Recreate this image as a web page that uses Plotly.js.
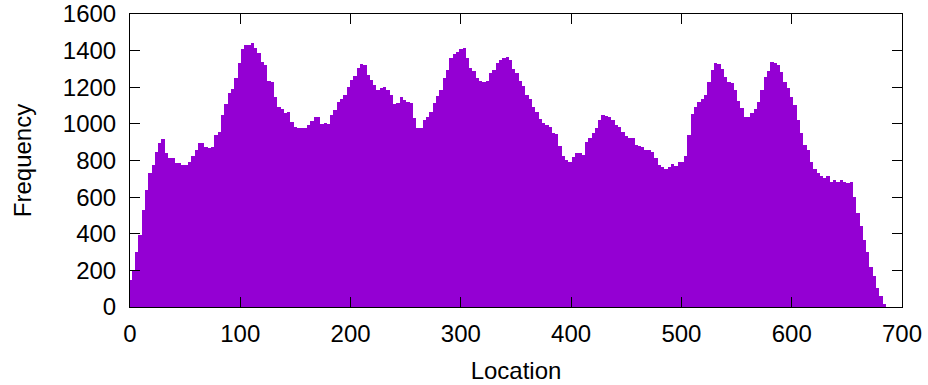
<!DOCTYPE html>
<html>
<head>
<meta charset="utf-8">
<script src="https://cdn.plot.ly/plotly-3.0.1.min.js"></script>
<style>html,body{margin:0;padding:0;background:#fff;}#chart{width:928px;height:385px;}</style>
</head>
<body>
<div id="chart"></div>
<script>
// Location (bin centres, step 3) and frequency
const locations = [
  0,3,6,9,12,15,18,21,24,27,30,33,36,39,42,45,48,51,54,57,60,63,66,69,72,75,78,81,84,87,
  90,93,96,99,102,105,108,111,114,117,120,123,126,129,132,135,138,141,144,147,150,153,156,159,162,165,168,171,174,177,
  180,183,186,189,192,195,198,201,204,207,210,213,216,219,222,225,228,231,234,237,240,243,246,249,252,255,258,261,264,267,
  270,273,276,279,282,285,288,291,294,297,300,303,306,309,312,315,318,321,324,327,330,333,336,339,342,345,348,351,354,357,
  360,363,366,369,372,375,378,381,384,387,390,393,396,399,402,405,408,411,414,417,420,423,426,429,432,435,438,441,444,447,
  450,453,456,459,462,465,468,471,474,477,480,483,486,489,492,495,498,501,504,507,510,513,516,519,522,525,528,531,534,537,
  540,543,546,549,552,555,558,561,564,567,570,573,576,579,582,585,588,591,594,597,600,603,606,609,612,615,618,621,624,627,
  630,633,636,639,642,645,648,651,654,657,660,663,666,669,672,675,678,681,684
];
const frequency = [
  149,203,303,394,531,640,731,776,849,894,916,840,813,813,785,785,776,776,794,822,858,894,894,876,871,876,940,958,1049,1107,
  1167,1189,1249,1331,1407,1431,1431,1440,1413,1385,1340,1322,1234,1231,1149,1094,1080,1058,1064,1009,985,976,980,976,995,1013,1040,1040,1000,1004,
  1000,1049,1076,1122,1135,1158,1200,1240,1262,1304,1326,1322,1267,1240,1212,1185,1194,1200,1185,1158,1107,1116,1149,1131,1122,1116,1031,976,976,1022,
  1036,1067,1113,1153,1185,1249,1294,1358,1380,1391,1407,1413,1358,1304,1291,1249,1236,1231,1234,1276,1294,1331,1349,1360,1367,1349,1298,1276,1236,1207,
  1158,1135,1094,1067,1025,1007,993,982,949,945,880,822,803,794,818,840,840,831,901,922,949,976,1022,1047,1044,1036,1022,995,985,958,
  934,925,922,885,880,876,858,858,849,813,776,767,756,764,782,771,794,794,822,940,1053,1094,1122,1135,1158,1231,1294,1331,1327,1298,
  1258,1231,1222,1185,1127,1085,1040,1036,1058,1080,1122,1185,1258,1291,1340,1335,1322,1285,1231,1195,1145,1103,1022,949,885,858,794,753,731,716,
  704,713,685,694,685,691,680,676,685,603,512,440,367,303,221,167,103,62,15
];
const xTicks = [0,100,200,300,400,500,600,700];
const yTicks = [0,200,400,600,800,1000,1200,1400,1600];

const font = {family: '"Liberation Sans", Arial, sans-serif', size: 24, color: '#000'};

const trace = {
  type: 'bar',
  x: locations,
  y: frequency,
  width: 3,
  marker: {color: '#9400D3', line: {width: 0}},
  hoverinfo: 'x+y'
};

const axisCommon = {
  showgrid: false,
  zeroline: false,
  showline: true,
  linecolor: '#000',
  linewidth: 1,
  mirror: 'ticks',
  ticks: 'inside',
  ticklen: 10,
  tickwidth: 1,
  tickcolor: '#000',
  tickfont: font
};

const layout = {
  width: 928,
  height: 385,
  margin: {l: 130, r: 26, t: 14, b: 78},
  paper_bgcolor: '#fff',
  plot_bgcolor: '#fff',
  showlegend: false,
  bargap: 0,
  font: font,
  xaxis: Object.assign({}, axisCommon, {
    range: [0, 700],
    tickmode: 'array',
    tickvals: xTicks,
    ticktext: xTicks.map(String),
    ticklabelstandoff: 5,
    title: {text: 'Location', font: font, standoff: 16}
  }),
  yaxis: Object.assign({}, axisCommon, {
    range: [0, 1600],
    tickmode: 'array',
    tickvals: yTicks,
    ticktext: yTicks.map(String),
    ticklabelstandoff: 8,
    title: {text: 'Frequency', font: font, standoff: 24}
  })
};

Plotly.newPlot('chart', [trace], layout, {staticPlot: true, displayModeBar: false});
</script>
</body>
</html>
